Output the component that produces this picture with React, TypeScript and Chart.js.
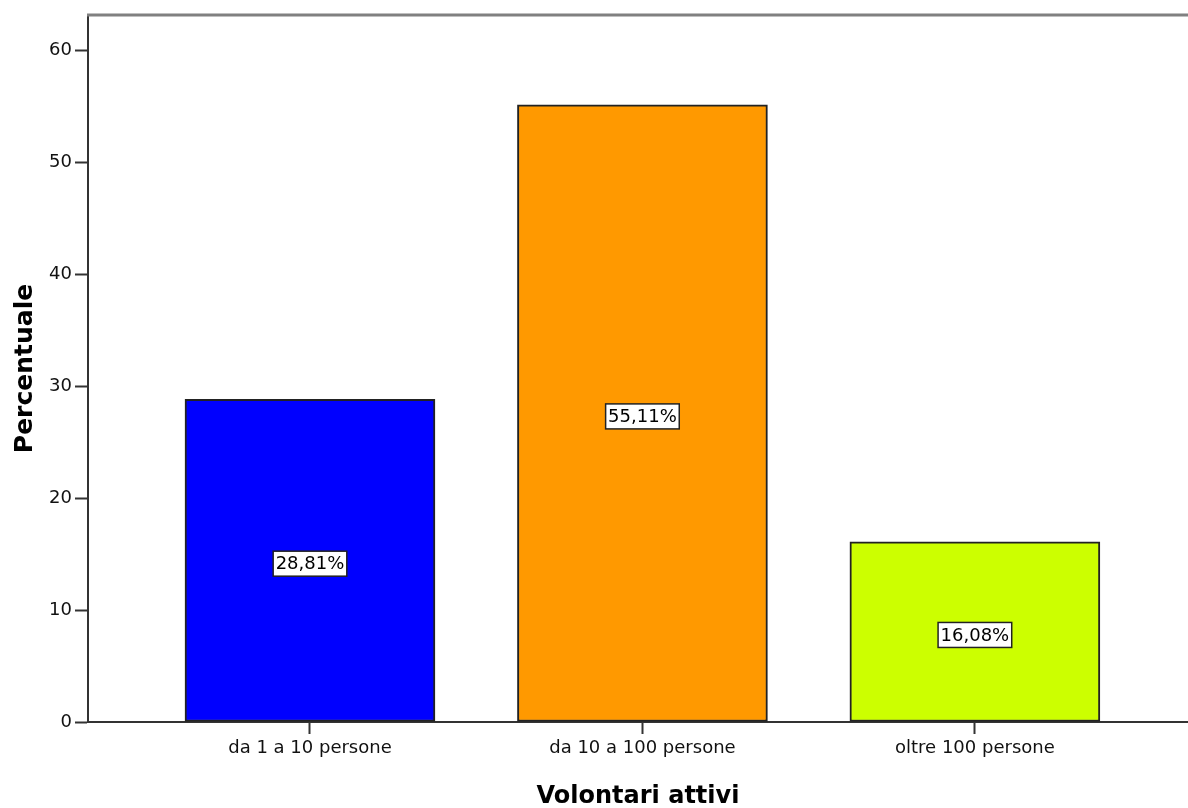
import React, { useEffect, useRef } from "react";
import { Chart, registerables } from "chart.js";

Chart.register(...registerables);

// Volunteer-count classes and their share of organisations (%)
const categories: string[] = ["da 1 a 10 persone", "da 10 a 100 persone", "oltre 100 persone"];
const percentages: number[] = [28.81, 55.11, 16.08];
const barColors: string[] = ["#0000FF", "#FF9900", "#CCFF00"];
const yTicks: number[] = [0, 10, 20, 30, 40, 50, 60];

const xTitle = "Volontari attivi";
const yTitle = "Percentuale";

const FONT = "'DejaVu Sans', 'Liberation Sans', Arial, sans-serif";
const AXIS_COLOR = "#333333";

const formatPct = (v: number) => v.toFixed(2).replace(".", ",") + "%";

// Gray frame line along the top edge of the plot area
const topFramePlugin = {
  id: "topFrame",
  afterDraw(chart: any) {
    const { ctx, chartArea } = chart;
    ctx.save();
    ctx.strokeStyle = "#808080";
    ctx.lineWidth = 3;
    ctx.beginPath();
    ctx.moveTo(chartArea.left - 1, chartArea.top);
    ctx.lineTo(chartArea.right, chartArea.top);
    ctx.stroke();
    ctx.restore();
  },
};

// Boxed percentage labels in the middle of each bar
const boxLabelPlugin = {
  id: "boxLabels",
  afterDatasetsDraw(chart: any) {
    const { ctx } = chart;
    const yScale = chart.scales.y;
    const meta = chart.getDatasetMeta(0);
    ctx.save();
    ctx.font = `18px ${FONT}`;
    ctx.textAlign = "center";
    ctx.textBaseline = "middle";
    meta.data.forEach((bar: any, i: number) => {
      const value = percentages[i];
      const text = formatPct(value);
      const cx = bar.x;
      const cy = yScale.getPixelForValue(value / 2) + 3;
      const w = ctx.measureText(text).width + 5;
      const h = 25;
      ctx.fillStyle = "#FFFFFF";
      ctx.fillRect(cx - w / 2, cy - h / 2, w, h);
      ctx.strokeStyle = "#222222";
      ctx.lineWidth = 1.5;
      ctx.strokeRect(cx - w / 2, cy - h / 2, w, h);
      ctx.fillStyle = "#000000";
      ctx.fillText(text, cx, cy + 1);
    });
    ctx.restore();
  },
};

export default function App() {
  const canvasRef = useRef<HTMLCanvasElement | null>(null);

  useEffect(() => {
    if (!canvasRef.current) return;
    const chart = new Chart(canvasRef.current, {
      type: "bar",
      data: {
        datasets: [
          {
            data: percentages.map((v, i) => ({ x: i, y: v })),
            backgroundColor: barColors,
            borderColor: "#222222",
            borderWidth: 2,
            borderSkipped: false,
            barThickness: 250,
          },
        ],
      },
      options: {
        responsive: false,
        animation: false,
        layout: { padding: { top: 15, right: 0, bottom: 0, left: 0 } },
        plugins: {
          legend: { display: false },
          tooltip: { enabled: false },
        },
        scales: {
          x: {
            type: "linear",
            offset: false,
            min: -0.6677,
            max: 2.641,
            grid: {
              offset: false,
              drawOnChartArea: false,
              drawTicks: true,
              tickLength: 12,
              tickColor: AXIS_COLOR,
              tickWidth: 2,
            },
            border: { display: true, color: AXIS_COLOR, width: 2 },
            afterBuildTicks: (scale: any) => {
              scale.ticks = categories.map((_, i) => ({ value: i }));
            },
            afterFit: (scale: any) => {
              scale.height = 86;
            },
            ticks: {
              autoSkip: false,
              maxRotation: 0,
              padding: 4,
              color: "#111111",
              font: { family: FONT, size: 18 },
              callback: (value: any) => categories[Number(value)] ?? "",
            },
            title: {
              display: true,
              text: xTitle,
              color: "#000000",
              font: { family: FONT, size: 24, weight: "bold" },
              padding: { top: 0, bottom: -3 },
            },
          },
          y: {
            min: 0,
            max: 63.13,
            grid: {
              drawOnChartArea: false,
              drawTicks: true,
              tickLength: 13,
              tickColor: AXIS_COLOR,
              tickWidth: 2,
            },
            border: { display: true, color: AXIS_COLOR, width: 2 },
            afterBuildTicks: (scale: any) => {
              scale.ticks = yTicks.map((v) => ({ value: v }));
            },
            afterFit: (scale: any) => {
              scale.width = 88;
            },
            ticks: {
              padding: 3,
              color: "#111111",
              font: { family: FONT, size: 18 },
            },
            title: {
              display: true,
              text: yTitle,
              color: "#000000",
              font: { family: FONT, size: 25, weight: "bold" },
              padding: { top: 10, bottom: 0 },
            },
          },
        },
      },
      plugins: [topFramePlugin, boxLabelPlugin],
    });
    return () => chart.destroy();
  }, []);

  return (
    <div
      style={{
        position: "fixed",
        left: 0,
        top: 0,
        width: 1188,
        height: 808,
        overflow: "hidden",
        background: "#FFFFFF",
      }}
    >
      <canvas ref={canvasRef} width={1188} height={808} style={{ display: "block" }} />
    </div>
  );
}
